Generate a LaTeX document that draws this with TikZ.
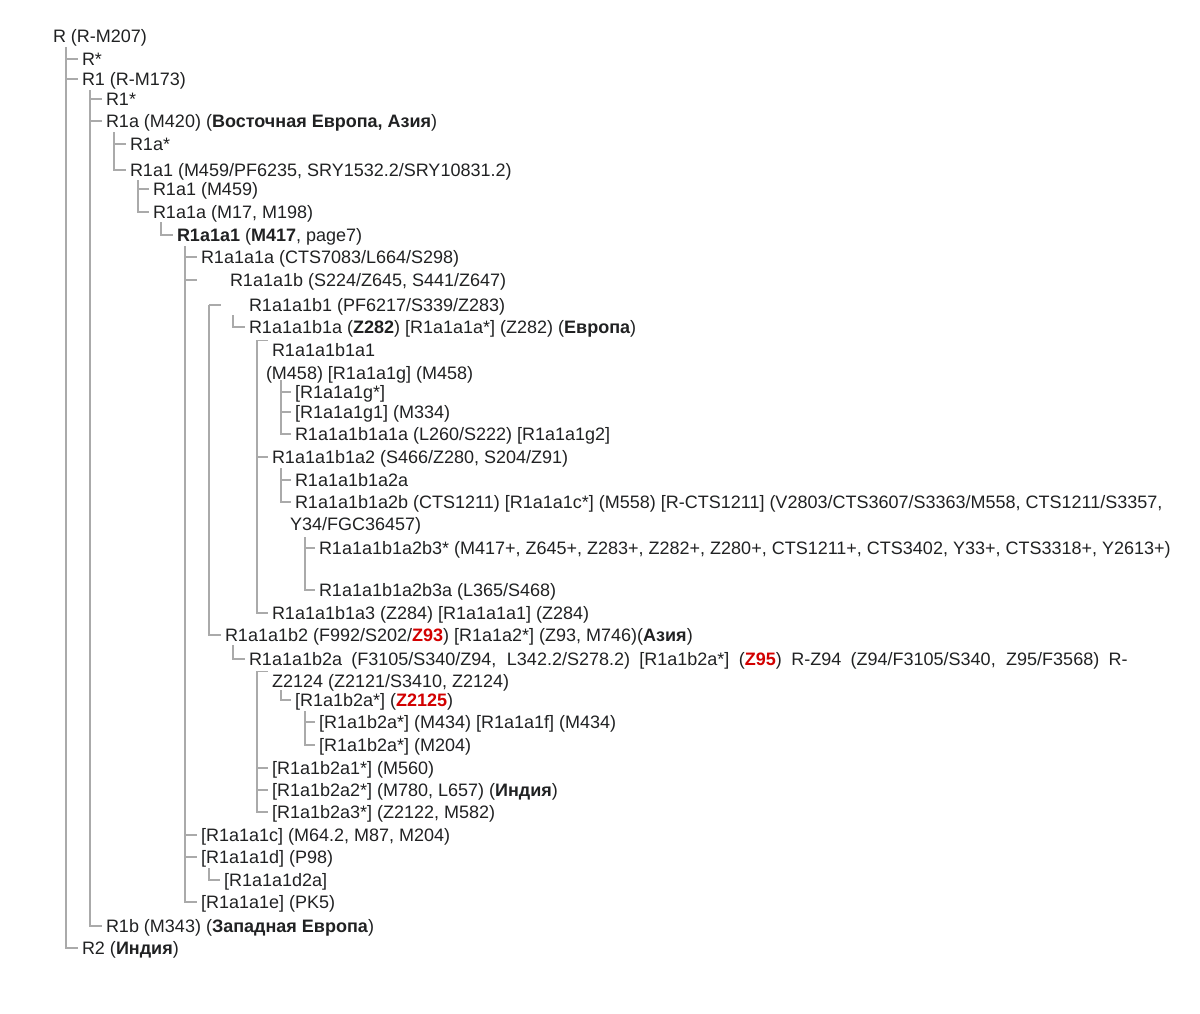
\documentclass[tikz,border=0pt]{standalone}
\usepackage{fontspec}
\setmainfont{Liberation Sans}
\definecolor{treegray}{RGB}{170,170,170}
\definecolor{treered}{RGB}{210,0,0}
\definecolor{treetext}{RGB}{32,33,34}
\newcommand{\redsnp}[1]{\textcolor{treered}{\textbf{#1}}}

\begin{document}
\begin{tikzpicture}[x=0.75pt,y=-0.75pt,font=\fontsize{13.5}{16}\selectfont,
        hg/.style={anchor=west,inner xsep=0pt,inner ysep=0pt,outer xsep=3pt,outer ysep=0pt,
            text height=12pt,text depth=1.6pt,text=treetext},
        tline/.style={draw=treegray,line width=0.8pt}]
            \useasboundingbox (0,0) rectangle (1200,1014);
            \node[hg] (R) at (49,36) {R (R-M207)};
            \node[hg] (Rst) at (78,59) {R*};
            \node[hg] (R1) at (78,79) {R1 (R-M173)};
            \node[hg] (R1st) at (102,99) {R1*};
            \node[hg] (R1a) at (102,121) {R1a (M420) (\textbf{Восточная Европа, Азия})};
            \node[hg] (R1ast) at (126,144) {R1a*};
            \node[hg] (R1a1) at (126,170) {R1a1 (M459/PF6235, SRY1532.2/SRY10831.2)};
            \node[hg] (R1a1m) at (149,189) {R1a1 (M459)};
            \node[hg] (R1a1a) at (149,212) {R1a1a (M17, M198)};
            \node[hg] (R1a1a1) at (173,235) {\textbf{R1a1a1} (\textbf{M417}, page7)};
            \node[hg] (A) at (197,257) {R1a1a1a (CTS7083/L664/S298)};
            \node[hg] (B) at (226,280) {R1a1a1b (S224/Z645, S441/Z647)};
            \node[hg] (b1) at (245,305) {R1a1a1b1 (PF6217/S339/Z283)};
            \node[hg] (b1a) at (245,327) {R1a1a1b1a (\textbf{Z282}) [R1a1a1a*] (Z282) (\textbf{Европа})};
            \node[hg] (b1a1) at (268,350) {R1a1a1b1a1};
            \node[hg] (b1a1m) at (262,373) {(M458) [R1a1a1g] (M458)};
            \node[hg] (g) at (291,392) {[R1a1a1g*]};
            \node[hg] (g1) at (291,412) {[R1a1a1g1] (M334)};
            \node[hg] (b1a1a) at (291,434) {R1a1a1b1a1a (L260/S222) [R1a1a1g2]};
            \node[hg] (b1a2) at (268,457) {R1a1a1b1a2 (S466/Z280, S204/Z91)};
            \node[hg] (b1a2a) at (291,480) {R1a1a1b1a2a};
            \node[hg] (b1a2b) at (291,502) {R1a1a1b1a2b (CTS1211) [R1a1a1c*] (M558) [R-CTS1211] (V2803/CTS3607/S3363/M558, CTS1211/S3357,};
            \node[hg] (b1a2bm) at (286,524) {Y34/FGC36457)};
            \node[hg] (b3st) at (315,548) {R1a1a1b1a2b3* (M417+, Z645+, Z283+, Z282+, Z280+, CTS1211+, CTS3402, Y33+, CTS3318+, Y2613+)};
            \node[hg] (b3a) at (315,590) {R1a1a1b1a2b3a (L365/S468)};
            \node[hg] (b1a3) at (268,613) {R1a1a1b1a3 (Z284) [R1a1a1a1] (Z284)};
            \node[hg] (b2) at (221,635) {R1a1a1b2 (F992/S202/\redsnp{Z93}) [R1a1a2*] (Z93, M746)(\textbf{Азия})};
            \node[hg] (b2a) at (245,659) {\makebox[659pt][s]{R1a1a1b2a (F3105/S340/Z94, L342.2/S278.2) [R1a1b2a*] (\redsnp{Z95}) R-Z94 (Z94/F3105/S340, Z95/F3568) R-}};
            \node[hg] (z2124) at (268,681) {Z2124 (Z2121/S3410, Z2124)};
            \node[hg] (z2125) at (291,700) {[R1a1b2a*] (\redsnp{Z2125})};
            \node[hg] (m434) at (315,722) {[R1a1b2a*] (M434) [R1a1a1f] (M434)};
            \node[hg] (m204) at (315,745) {[R1a1b2a*] (M204)};
            \node[hg] (b2a1) at (268,768) {[R1a1b2a1*] (M560)};
            \node[hg] (b2a2) at (268,790) {[R1a1b2a2*] (M780, L657) (\textbf{Индия})};
            \node[hg] (b2a3) at (268,812) {[R1a1b2a3*] (Z2122, M582)};
            \node[hg] (C) at (197,835) {[R1a1a1c] (M64.2, M87, M204)};
            \node[hg] (D) at (197,857) {[R1a1a1d] (P98)};
            \node[hg] (d2a) at (220,880) {[R1a1a1d2a]};
            \node[hg] (E) at (197,902) {[R1a1a1e] (PK5)};
            \node[hg] (R1b) at (102,926) {R1b (M343) (\textbf{Западная Европа})};
            \node[hg] (R2) at (78,948) {R2 (\textbf{Индия})};
            \coordinate (tR) at (66,47);
            \coordinate (tR1) at (90,90);
            \coordinate (tR1a) at (114,132);
            \coordinate (tR1a1) at (138,180);
            \coordinate (tR1a1a) at (161,222);
            \coordinate (tR1a1a1) at (185,246);
            \coordinate (tB) at (209,305);
            \coordinate (tb1) at (233,315);
            \coordinate (tb1a) at (257,341);
            \coordinate (tb1a1) at (281,380);
            \coordinate (tb1a2) at (281,468);
            \coordinate (tb1a2b) at (305,537);
            \coordinate (tb2) at (233,645);
            \coordinate (tb2a) at (257,672);
            \coordinate (tz2124) at (281,690);
            \coordinate (tz2125) at (305,711);
            \coordinate (tD) at (209,868);
            \coordinate (Bend) at (197,280);
            \coordinate (b1end) at (221,305);
            \foreach \t/\c in {tR/Rst.west,tR/R1.west,tR/R2.west,
                    tR1/R1st.west,tR1/R1a.west,tR1/R1b.west,
                    tR1a/R1ast.west,tR1a/R1a1.west,
                    tR1a1/R1a1m.west,tR1a1/R1a1a.west,
                    tR1a1a/R1a1a1.west,
                    tR1a1a1/A.west,tR1a1a1/Bend,tR1a1a1/C.west,tR1a1a1/D.west,tR1a1a1/E.west,
                    tB/b1end,tB/b2.west,
                    tb1/b1a.west,
                    tb1a/b1a1.north west,tb1a/b1a2.west,tb1a/b1a3.west,
                    tb1a1/g.west,tb1a1/g1.west,tb1a1/b1a1a.west,
                    tb1a2/b1a2a.west,tb1a2/b1a2b.west,
                    tb1a2b/b3st.west,tb1a2b/b3a.west,
                    tb2/b2a.west,
                    tb2a/z2124.north west,tb2a/b2a1.west,tb2a/b2a2.west,tb2a/b2a3.west,
                    tz2124/z2125.west,
                    tz2125/m434.west,tz2125/m204.west,
                    tD/d2a.west}{
                \draw[tline] (\t) |- (\c);
            }
\end{tikzpicture}
\end{document}
